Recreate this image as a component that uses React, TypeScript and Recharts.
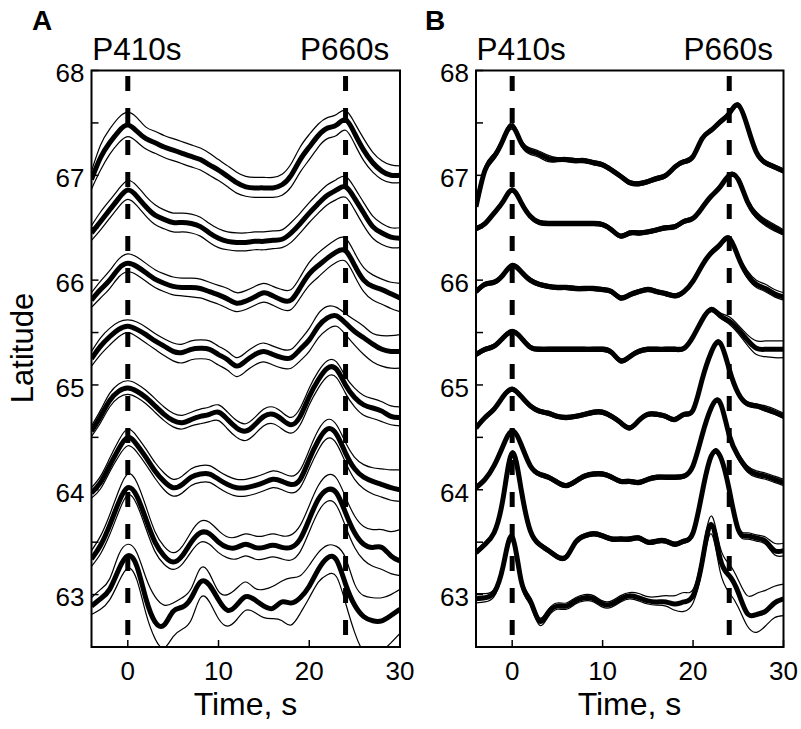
import React from 'react';
import { LineChart, Line, XAxis, YAxis, ReferenceLine, ReferenceArea } from 'recharts';

const FONT = '"Liberation Sans", Arial, Helvetica, sans-serif';

const time = [-4, -3, -2, -1, 0, 1, 2, 3, 4, 5, 6, 7, 8, 9, 10, 11, 12, 13, 14, 15, 16, 17, 18, 19, 20, 21, 22, 23, 24, 25, 26, 27, 28, 29, 30];
const xTicks = [0, 10, 20, 30];
const yTicks = [63, 63.5, 64, 64.5, 65, 65.5, 66, 66.5, 67, 67.5, 68];
const phaseTimes = [0, 24];
const phaseNames = ['P410s', 'P660s'];

// panel A: mean and the two bounds, top trace first
const a1Mean = [66.96, 67.17, 67.31, 67.42, 67.48, 67.42, 67.35, 67.31, 67.27, 67.24, 67.21, 67.18, 67.15, 67.10, 67.05, 66.99, 66.93, 66.89, 66.88, 66.88, 66.88, 66.91, 67.00, 67.15, 67.27, 67.38, 67.45, 67.48, 67.53, 67.40, 67.24, 67.12, 67.04, 67.00, 67.00];
const a1Upper = [67.04, 67.29, 67.44, 67.55, 67.60, 67.55, 67.46, 67.42, 67.38, 67.35, 67.32, 67.29, 67.26, 67.21, 67.15, 67.09, 67.03, 66.99, 66.98, 66.98, 66.98, 67.01, 67.11, 67.27, 67.39, 67.49, 67.55, 67.58, 67.62, 67.50, 67.35, 67.22, 67.14, 67.10, 67.09];
const a1Lower = [66.87, 67.05, 67.20, 67.31, 67.37, 67.32, 67.25, 67.21, 67.17, 67.14, 67.11, 67.08, 67.05, 67.00, 66.95, 66.89, 66.83, 66.80, 66.79, 66.79, 66.79, 66.81, 66.89, 67.03, 67.15, 67.27, 67.35, 67.38, 67.43, 67.30, 67.14, 67.03, 66.96, 66.93, 66.93];

const a2Mean = [66.45, 66.56, 66.67, 66.78, 66.86, 66.80, 66.70, 66.62, 66.58, 66.55, 66.55, 66.54, 66.51, 66.45, 66.40, 66.37, 66.36, 66.36, 66.37, 66.37, 66.38, 66.39, 66.45, 66.54, 66.64, 66.73, 66.81, 66.86, 66.89, 66.78, 66.64, 66.51, 66.45, 66.41, 66.40];
const a2Upper = [66.52, 66.65, 66.76, 66.87, 66.95, 66.90, 66.80, 66.72, 66.67, 66.64, 66.64, 66.63, 66.60, 66.54, 66.49, 66.46, 66.45, 66.45, 66.46, 66.46, 66.47, 66.48, 66.55, 66.64, 66.74, 66.83, 66.91, 66.96, 66.99, 66.88, 66.74, 66.61, 66.54, 66.50, 66.50];
const a2Lower = [66.38, 66.48, 66.59, 66.70, 66.77, 66.71, 66.61, 66.53, 66.49, 66.46, 66.46, 66.45, 66.42, 66.36, 66.31, 66.29, 66.28, 66.28, 66.29, 66.29, 66.30, 66.31, 66.36, 66.45, 66.55, 66.64, 66.72, 66.77, 66.79, 66.67, 66.52, 66.40, 66.34, 66.31, 66.31];

const a3Mean = [65.81, 65.91, 66.00, 66.11, 66.16, 66.13, 66.07, 66.01, 65.97, 65.94, 65.93, 65.93, 65.92, 65.89, 65.86, 65.82, 65.78, 65.80, 65.84, 65.88, 65.85, 65.81, 65.81, 65.93, 66.06, 66.14, 66.21, 66.27, 66.28, 66.14, 66.00, 65.94, 65.91, 65.87, 65.83];
const a3Upper = [65.88, 65.99, 66.09, 66.20, 66.25, 66.22, 66.16, 66.10, 66.06, 66.03, 66.02, 66.02, 66.01, 65.98, 65.95, 65.92, 65.88, 65.90, 65.94, 65.97, 65.94, 65.91, 65.91, 66.03, 66.17, 66.26, 66.33, 66.39, 66.40, 66.26, 66.12, 66.05, 66.01, 65.98, 65.97];
const a3Lower = [65.74, 65.83, 65.92, 66.03, 66.08, 66.05, 65.99, 65.93, 65.89, 65.86, 65.85, 65.84, 65.83, 65.80, 65.77, 65.73, 65.70, 65.72, 65.76, 65.79, 65.76, 65.72, 65.72, 65.83, 65.95, 66.03, 66.11, 66.17, 66.18, 66.04, 65.89, 65.81, 65.77, 65.73, 65.70];

const a4Mean = [65.25, 65.37, 65.46, 65.53, 65.56, 65.53, 65.48, 65.42, 65.37, 65.32, 65.31, 65.34, 65.35, 65.34, 65.29, 65.24, 65.18, 65.23, 65.29, 65.32, 65.29, 65.26, 65.26, 65.34, 65.43, 65.56, 65.64, 65.66, 65.59, 65.51, 65.45, 65.39, 65.34, 65.32, 65.32];
const a4Upper = [65.32, 65.45, 65.54, 65.60, 65.62, 65.60, 65.55, 65.49, 65.44, 65.40, 65.39, 65.42, 65.43, 65.42, 65.37, 65.32, 65.26, 65.31, 65.37, 65.40, 65.37, 65.34, 65.34, 65.43, 65.54, 65.68, 65.75, 65.74, 65.68, 65.62, 65.56, 65.49, 65.47, 65.47, 65.48];
const a4Lower = [65.18, 65.29, 65.38, 65.46, 65.50, 65.46, 65.40, 65.34, 65.28, 65.23, 65.21, 65.24, 65.25, 65.24, 65.19, 65.14, 65.08, 65.13, 65.19, 65.22, 65.19, 65.16, 65.16, 65.23, 65.32, 65.45, 65.53, 65.56, 65.48, 65.38, 65.29, 65.22, 65.18, 65.16, 65.16];

const a5Mean = [64.56, 64.70, 64.85, 64.94, 64.97, 64.94, 64.88, 64.80, 64.72, 64.66, 64.64, 64.67, 64.70, 64.72, 64.74, 64.67, 64.59, 64.56, 64.62, 64.70, 64.72, 64.67, 64.62, 64.70, 64.89, 65.05, 65.16, 65.15, 65.00, 64.88, 64.81, 64.78, 64.75, 64.70, 64.69];
const a5Upper = [64.61, 64.76, 64.92, 65.01, 65.04, 65.01, 64.95, 64.87, 64.79, 64.73, 64.71, 64.74, 64.77, 64.79, 64.81, 64.74, 64.66, 64.63, 64.69, 64.77, 64.79, 64.74, 64.69, 64.78, 64.97, 65.13, 65.23, 65.22, 65.08, 64.97, 64.90, 64.87, 64.84, 64.80, 64.79];
const a5Lower = [64.51, 64.64, 64.79, 64.88, 64.91, 64.88, 64.82, 64.74, 64.66, 64.60, 64.58, 64.61, 64.63, 64.65, 64.66, 64.58, 64.50, 64.47, 64.53, 64.61, 64.63, 64.58, 64.54, 64.62, 64.81, 64.97, 65.08, 65.07, 64.92, 64.79, 64.71, 64.68, 64.65, 64.62, 64.61];

const a6Mean = [63.97, 64.07, 64.23, 64.39, 64.50, 64.43, 64.31, 64.18, 64.08, 64.02, 64.05, 64.12, 64.15, 64.15, 64.10, 64.05, 64.02, 64.02, 64.04, 64.07, 64.10, 64.08, 64.05, 64.10, 64.29, 64.47, 64.58, 64.53, 64.35, 64.20, 64.12, 64.08, 64.05, 64.02, 64.00];
const a6Upper = [64.02, 64.13, 64.30, 64.47, 64.58, 64.51, 64.39, 64.26, 64.16, 64.10, 64.13, 64.20, 64.23, 64.23, 64.18, 64.13, 64.10, 64.10, 64.12, 64.15, 64.18, 64.16, 64.13, 64.19, 64.38, 64.57, 64.67, 64.62, 64.45, 64.31, 64.24, 64.21, 64.20, 64.19, 64.19];
const a6Lower = [63.92, 64.01, 64.17, 64.32, 64.42, 64.36, 64.24, 64.11, 64.00, 63.94, 63.97, 64.04, 64.07, 64.07, 64.02, 63.97, 63.94, 63.94, 63.96, 63.99, 64.02, 64.00, 63.97, 64.02, 64.20, 64.38, 64.49, 64.44, 64.26, 64.10, 64.01, 63.96, 63.93, 63.90, 63.89];

const a7Mean = [63.34, 63.47, 63.66, 63.88, 64.02, 63.94, 63.72, 63.50, 63.37, 63.31, 63.37, 63.50, 63.59, 63.58, 63.50, 63.45, 63.45, 63.48, 63.45, 63.45, 63.47, 63.45, 63.45, 63.53, 63.72, 63.91, 64.00, 63.97, 63.78, 63.59, 63.48, 63.45, 63.45, 63.37, 63.32];
const a7Upper = [63.42, 63.56, 63.76, 63.99, 64.15, 64.07, 63.84, 63.60, 63.46, 63.40, 63.46, 63.60, 63.70, 63.69, 63.61, 63.55, 63.55, 63.58, 63.56, 63.56, 63.58, 63.56, 63.57, 63.66, 63.85, 64.04, 64.14, 64.11, 63.93, 63.75, 63.65, 63.62, 63.62, 63.60, 63.62];
const a7Lower = [63.27, 63.39, 63.57, 63.79, 63.95, 63.86, 63.63, 63.41, 63.29, 63.24, 63.29, 63.41, 63.50, 63.48, 63.40, 63.35, 63.34, 63.37, 63.34, 63.34, 63.36, 63.34, 63.33, 63.41, 63.60, 63.79, 63.89, 63.85, 63.65, 63.45, 63.33, 63.27, 63.24, 63.20, 63.18];

const a8Mean = [62.89, 62.96, 63.05, 63.24, 63.37, 63.27, 62.96, 62.74, 62.71, 62.84, 62.88, 62.97, 63.12, 63.09, 62.95, 62.85, 62.90, 62.98, 62.95, 62.89, 62.87, 62.93, 62.92, 62.97, 63.08, 63.24, 63.35, 63.33, 63.10, 62.90, 62.79, 62.75, 62.75, 62.80, 62.86];
const a8Upper = [62.97, 63.05, 63.15, 63.38, 63.48, 63.40, 63.16, 62.98, 62.90, 62.92, 62.97, 63.06, 63.25, 63.20, 63.03, 63.00, 63.06, 63.12, 63.06, 63.05, 63.08, 63.13, 63.16, 63.18, 63.28, 63.40, 63.47, 63.46, 63.35, 63.10, 62.99, 62.97, 62.97, 63.00, 63.05];
const a8Lower = [62.81, 62.86, 62.95, 63.12, 63.25, 63.14, 62.82, 62.58, 62.49, 62.60, 62.67, 62.76, 62.97, 62.93, 62.77, 62.70, 62.76, 62.85, 62.83, 62.78, 62.77, 62.75, 62.71, 62.82, 62.97, 63.12, 63.19, 63.17, 62.92, 62.64, 62.45, 62.40, 62.46, 62.54, 62.63];

// panel B
const b1Mean = [66.70, 67.05, 67.18, 67.34, 67.47, 67.31, 67.23, 67.20, 67.16, 67.15, 67.15, 67.14, 67.14, 67.12, 67.10, 67.05, 66.99, 66.93, 66.92, 66.94, 66.97, 67.00, 67.08, 67.13, 67.18, 67.35, 67.43, 67.51, 67.59, 67.67, 67.47, 67.22, 67.12, 67.08, 67.04];
const b1Upper = [66.73, 67.09, 67.21, 67.37, 67.50, 67.34, 67.26, 67.23, 67.19, 67.17, 67.17, 67.16, 67.16, 67.14, 67.12, 67.07, 67.01, 66.95, 66.94, 66.96, 66.99, 67.02, 67.10, 67.15, 67.20, 67.37, 67.45, 67.53, 67.61, 67.69, 67.49, 67.24, 67.14, 67.10, 67.06];
const b1Lower = [66.67, 67.02, 67.15, 67.31, 67.44, 67.28, 67.20, 67.17, 67.13, 67.13, 67.13, 67.12, 67.12, 67.10, 67.08, 67.03, 66.97, 66.91, 66.90, 66.92, 66.95, 66.98, 67.06, 67.11, 67.16, 67.33, 67.41, 67.49, 67.57, 67.65, 67.45, 67.20, 67.10, 67.06, 67.02];

const b2Mean = [66.49, 66.54, 66.64, 66.75, 66.86, 66.74, 66.61, 66.55, 66.54, 66.54, 66.54, 66.54, 66.54, 66.54, 66.53, 66.48, 66.42, 66.45, 66.45, 66.46, 66.48, 66.50, 66.51, 66.56, 66.59, 66.69, 66.80, 66.89, 67.00, 66.96, 66.75, 66.62, 66.55, 66.50, 66.45];
const b2Upper = [66.51, 66.56, 66.66, 66.77, 66.88, 66.76, 66.63, 66.57, 66.56, 66.56, 66.56, 66.56, 66.56, 66.56, 66.55, 66.50, 66.44, 66.47, 66.47, 66.48, 66.50, 66.52, 66.53, 66.58, 66.61, 66.71, 66.82, 66.91, 67.02, 66.98, 66.78, 66.65, 66.58, 66.53, 66.48];
const b2Lower = [66.47, 66.52, 66.62, 66.73, 66.84, 66.72, 66.59, 66.53, 66.52, 66.52, 66.52, 66.52, 66.52, 66.52, 66.51, 66.46, 66.40, 66.43, 66.43, 66.44, 66.46, 66.48, 66.49, 66.54, 66.57, 66.67, 66.78, 66.87, 66.98, 66.94, 66.72, 66.59, 66.52, 66.47, 66.43];

const b3Mean = [65.89, 65.96, 65.98, 66.05, 66.14, 66.08, 66.00, 65.96, 65.94, 65.93, 65.93, 65.92, 65.92, 65.92, 65.91, 65.89, 65.83, 65.86, 65.89, 65.91, 65.89, 65.87, 65.85, 65.89, 65.99, 66.14, 66.26, 66.34, 66.40, 66.22, 66.05, 65.96, 65.92, 65.87, 65.84];
const b3Upper = [65.91, 65.98, 66.00, 66.07, 66.16, 66.10, 66.02, 65.98, 65.96, 65.95, 65.95, 65.94, 65.94, 65.94, 65.93, 65.91, 65.85, 65.88, 65.91, 65.93, 65.91, 65.89, 65.87, 65.91, 66.01, 66.16, 66.28, 66.36, 66.42, 66.25, 66.09, 66.00, 65.96, 65.91, 65.88];
const b3Lower = [65.87, 65.94, 65.96, 66.03, 66.12, 66.06, 65.98, 65.94, 65.92, 65.91, 65.91, 65.90, 65.90, 65.90, 65.89, 65.87, 65.81, 65.84, 65.87, 65.89, 65.87, 65.85, 65.83, 65.87, 65.97, 66.12, 66.24, 66.32, 66.38, 66.20, 66.02, 65.93, 65.89, 65.84, 65.81];

const b4Mean = [65.29, 65.34, 65.37, 65.45, 65.51, 65.45, 65.36, 65.34, 65.34, 65.34, 65.34, 65.34, 65.34, 65.34, 65.34, 65.31, 65.23, 65.27, 65.32, 65.34, 65.34, 65.34, 65.34, 65.35, 65.46, 65.62, 65.72, 65.66, 65.61, 65.53, 65.43, 65.35, 65.34, 65.34, 65.34];
const b4Upper = [65.31, 65.36, 65.39, 65.47, 65.53, 65.47, 65.38, 65.36, 65.36, 65.36, 65.36, 65.36, 65.36, 65.36, 65.36, 65.33, 65.25, 65.29, 65.34, 65.36, 65.36, 65.36, 65.36, 65.37, 65.48, 65.64, 65.74, 65.69, 65.65, 65.57, 65.48, 65.42, 65.42, 65.42, 65.42];
const b4Lower = [65.27, 65.32, 65.35, 65.43, 65.49, 65.43, 65.34, 65.32, 65.32, 65.32, 65.32, 65.32, 65.32, 65.32, 65.32, 65.29, 65.21, 65.25, 65.30, 65.32, 65.32, 65.32, 65.32, 65.33, 65.44, 65.60, 65.70, 65.64, 65.58, 65.49, 65.38, 65.29, 65.27, 65.26, 65.26];

const b5Mean = [64.59, 64.69, 64.77, 64.89, 64.96, 64.89, 64.80, 64.75, 64.73, 64.70, 64.69, 64.70, 64.72, 64.74, 64.74, 64.70, 64.64, 64.59, 64.66, 64.72, 64.72, 64.70, 64.67, 64.72, 64.76, 65.05, 65.31, 65.40, 65.15, 64.92, 64.82, 64.80, 64.77, 64.74, 64.70];
const b5Upper = [64.61, 64.71, 64.79, 64.91, 64.98, 64.91, 64.82, 64.77, 64.75, 64.72, 64.71, 64.72, 64.74, 64.76, 64.76, 64.72, 64.66, 64.61, 64.68, 64.74, 64.74, 64.72, 64.69, 64.74, 64.78, 65.07, 65.33, 65.42, 65.17, 64.94, 64.84, 64.82, 64.80, 64.77, 64.73];
const b5Lower = [64.57, 64.67, 64.75, 64.87, 64.94, 64.87, 64.78, 64.73, 64.71, 64.68, 64.67, 64.68, 64.70, 64.72, 64.72, 64.68, 64.62, 64.57, 64.64, 64.70, 64.70, 64.68, 64.65, 64.70, 64.74, 65.03, 65.29, 65.38, 65.13, 64.90, 64.80, 64.78, 64.75, 64.72, 64.68];

const b6Mean = [64.02, 64.10, 64.23, 64.42, 64.56, 64.43, 64.23, 64.15, 64.12, 64.07, 64.04, 64.08, 64.13, 64.15, 64.15, 64.12, 64.08, 64.08, 64.07, 64.10, 64.12, 64.12, 64.12, 64.13, 64.23, 64.52, 64.78, 64.83, 64.52, 64.32, 64.20, 64.15, 64.13, 64.10, 64.07];
const b6Upper = [64.04, 64.12, 64.25, 64.44, 64.58, 64.45, 64.25, 64.17, 64.14, 64.09, 64.06, 64.10, 64.15, 64.17, 64.17, 64.14, 64.10, 64.10, 64.09, 64.12, 64.14, 64.14, 64.14, 64.15, 64.25, 64.54, 64.80, 64.85, 64.55, 64.35, 64.23, 64.18, 64.16, 64.13, 64.10];
const b6Lower = [64.00, 64.08, 64.21, 64.40, 64.54, 64.41, 64.21, 64.13, 64.10, 64.05, 64.02, 64.06, 64.11, 64.13, 64.13, 64.10, 64.06, 64.06, 64.05, 64.08, 64.10, 64.10, 64.10, 64.11, 64.21, 64.50, 64.76, 64.81, 64.49, 64.29, 64.17, 64.12, 64.10, 64.07, 64.04];

const b7Mean = [63.40, 63.48, 63.59, 63.92, 64.35, 64.00, 63.61, 63.48, 63.42, 63.36, 63.36, 63.50, 63.56, 63.58, 63.56, 63.53, 63.53, 63.53, 63.54, 63.50, 63.51, 63.51, 63.48, 63.51, 63.59, 63.97, 64.32, 64.32, 64.00, 63.62, 63.56, 63.54, 63.51, 63.42, 63.42];
const b7Upper = [63.42, 63.50, 63.61, 63.94, 64.37, 64.02, 63.63, 63.50, 63.44, 63.38, 63.38, 63.52, 63.58, 63.60, 63.58, 63.55, 63.55, 63.55, 63.56, 63.52, 63.53, 63.53, 63.50, 63.53, 63.61, 63.99, 64.34, 64.35, 64.03, 63.65, 63.59, 63.57, 63.55, 63.49, 63.49];
const b7Lower = [63.38, 63.46, 63.57, 63.90, 64.33, 63.98, 63.59, 63.46, 63.40, 63.34, 63.34, 63.48, 63.54, 63.56, 63.54, 63.51, 63.51, 63.51, 63.52, 63.48, 63.49, 63.49, 63.46, 63.49, 63.57, 63.95, 64.30, 64.30, 63.97, 63.59, 63.53, 63.51, 63.48, 63.38, 63.37];

const b8Mean = [62.96, 62.97, 63.02, 63.27, 63.55, 63.13, 62.94, 62.75, 62.83, 62.89, 62.89, 62.94, 62.97, 62.96, 62.91, 62.91, 62.96, 62.99, 62.97, 62.94, 62.93, 62.93, 62.91, 62.93, 62.99, 63.31, 63.67, 63.34, 63.18, 63.02, 62.82, 62.81, 62.84, 62.92, 62.96];
const b8Upper = [63.01, 63.01, 63.05, 63.30, 63.58, 63.17, 62.97, 62.78, 62.86, 62.92, 62.92, 62.97, 63.00, 62.99, 62.94, 62.94, 62.99, 63.02, 63.01, 62.98, 62.98, 62.99, 62.99, 63.02, 63.05, 63.38, 63.75, 63.45, 63.29, 63.14, 62.99, 63.01, 63.04, 63.08, 63.10];
const b8Lower = [62.92, 62.93, 62.98, 63.23, 63.51, 63.09, 62.90, 62.71, 62.79, 62.86, 62.86, 62.91, 62.94, 62.93, 62.88, 62.88, 62.93, 62.96, 62.94, 62.91, 62.90, 62.89, 62.85, 62.84, 62.92, 63.24, 63.58, 63.22, 63.02, 62.88, 62.70, 62.64, 62.70, 62.78, 62.80];

type Trace = { mean: number[]; upper: number[]; lower: number[] };

const tracesA: Trace[] = [
  { mean: a1Mean, upper: a1Upper, lower: a1Lower },
  { mean: a2Mean, upper: a2Upper, lower: a2Lower },
  { mean: a3Mean, upper: a3Upper, lower: a3Lower },
  { mean: a4Mean, upper: a4Upper, lower: a4Lower },
  { mean: a5Mean, upper: a5Upper, lower: a5Lower },
  { mean: a6Mean, upper: a6Upper, lower: a6Lower },
  { mean: a7Mean, upper: a7Upper, lower: a7Lower },
  { mean: a8Mean, upper: a8Upper, lower: a8Lower },
];

const tracesB: Trace[] = [
  { mean: b1Mean, upper: b1Upper, lower: b1Lower },
  { mean: b2Mean, upper: b2Upper, lower: b2Lower },
  { mean: b3Mean, upper: b3Upper, lower: b3Lower },
  { mean: b4Mean, upper: b4Upper, lower: b4Lower },
  { mean: b5Mean, upper: b5Upper, lower: b5Lower },
  { mean: b6Mean, upper: b6Upper, lower: b6Lower },
  { mean: b7Mean, upper: b7Upper, lower: b7Lower },
  { mean: b8Mean, upper: b8Upper, lower: b8Lower },
];

const X_DOMAIN: [number, number] = [-4, 30];
const Y_DOMAIN: [number, number] = [62.5, 68];
const HEIGHT = 729;
const TICK_LINE = { stroke: '#000', strokeWidth: 1.5 };

function toRows(traces: Trace[]) {
  return time.map((t, i) => {
    const row: Record<string, number> = { t };
    traces.forEach((tr, k) => {
      row[`m${k}`] = tr.mean[i];
      row[`u${k}`] = tr.upper[i];
      row[`l${k}`] = tr.lower[i];
    });
    return row;
  });
}

type PanelProps = {
  traces: Trace[];
  width: number;
  margin: { top: number; right: number; bottom: number; left: number };
};

function Panel({ traces, width, margin }: PanelProps) {
  const rows = toRows(traces);
  return (
    <LineChart width={width} height={HEIGHT} data={rows} margin={margin}>
      <XAxis
        dataKey="t"
        type="number"
        domain={X_DOMAIN}
        ticks={xTicks}
        allowDataOverflow
        interval={0}
        height={50}
        tickSize={-7}
        tickMargin={21.5}
        axisLine={false}
        tickLine={TICK_LINE}
        tick={{ fill: '#000', fontSize: 26, fontFamily: FONT }}
      />
      <XAxis
        xAxisId="top"
        orientation="top"
        dataKey="t"
        type="number"
        domain={X_DOMAIN}
        ticks={xTicks}
        allowDataOverflow
        interval={0}
        height={1}
        tickSize={-7}
        tick={false}
        axisLine={false}
        tickLine={TICK_LINE}
      />
      <YAxis
        type="number"
        domain={Y_DOMAIN}
        ticks={yTicks}
        allowDataOverflow
        interval={0}
        width={60}
        tickSize={-7}
        tickMargin={14}
        axisLine={false}
        tickLine={TICK_LINE}
        tick={{ fill: '#000', fontSize: 26, fontFamily: FONT, dy: 2.5 }}
        tickFormatter={(v: number) => (Number.isInteger(v) ? String(v) : '')}
      />
      <YAxis
        yAxisId="right"
        orientation="right"
        type="number"
        domain={Y_DOMAIN}
        ticks={yTicks}
        allowDataOverflow
        interval={0}
        width={1}
        tickSize={-7}
        tick={false}
        axisLine={false}
        tickLine={TICK_LINE}
      />
      {traces.map((_, k) => (
        <Line
          key={`u${k}`}
          dataKey={`u${k}`}
          type="natural"
          stroke="#000"
          strokeWidth={1.2}
          dot={false}
          activeDot={false}
          isAnimationActive={false}
        />
      ))}
      {traces.map((_, k) => (
        <Line
          key={`l${k}`}
          dataKey={`l${k}`}
          type="natural"
          stroke="#000"
          strokeWidth={1.2}
          dot={false}
          activeDot={false}
          isAnimationActive={false}
        />
      ))}
      {traces.map((_, k) => (
        <Line
          key={`m${k}`}
          dataKey={`m${k}`}
          type="natural"
          stroke="#000"
          strokeWidth={5}
          dot={false}
          activeDot={false}
          isAnimationActive={false}
        />
      ))}
      {phaseTimes.map((t, i) => (
        <ReferenceLine
          key={t}
          segment={[
            { x: t, y: Y_DOMAIN[1] },
            { x: t, y: Y_DOMAIN[0] },
          ]}
          stroke="#000"
          strokeWidth={5}
          strokeDasharray="15 17"
          strokeDashoffset={26.5}
          label={{
            value: phaseNames[i],
            position: 'top',
            offset: 10.5,
            dx: i === 0 ? 9 : -1,
            fill: '#000',
            fontSize: 31.5,
            fontFamily: FONT,
          }}
        />
      ))}
      <ReferenceArea
        x1={X_DOMAIN[0]}
        x2={X_DOMAIN[1]}
        y1={Y_DOMAIN[0]}
        y2={Y_DOMAIN[1]}
        fill="none"
        fillOpacity={0}
        stroke="#000"
        strokeWidth={2}
      />
    </LineChart>
  );
}

export default function App() {
  return (
    <div style={{ position: 'absolute', left: 0, top: 0, width: 801, height: HEIGHT, background: '#fff' }}>
      <div style={{ position: 'absolute', left: 0, top: 0 }}>
        <Panel traces={tracesA} width={440} margin={{ top: 69.5, right: 39, bottom: 32, left: 31.5 }} />
      </div>
      <div style={{ position: 'absolute', left: 400, top: 0 }}>
        <Panel traces={tracesB} width={401} margin={{ top: 69.5, right: 16.5, bottom: 32, left: 16 }} />
      </div>
      <svg
        width={801}
        height={HEIGHT}
        style={{ position: 'absolute', left: 0, top: 0, pointerEvents: 'none' }}
        fontFamily={FONT}
      >
        <text x={32} y={29.5} fontSize={28} fontWeight="bold">A</text>
        <text x={425} y={30} fontSize={28} fontWeight="bold">B</text>
        <text x={245.5} y={714.5} fontSize={32} textAnchor="middle">Time, s</text>
        <text x={629.5} y={714.5} fontSize={32} textAnchor="middle">Time, s</text>
        <text x={33} y={348} fontSize={31} textAnchor="middle" transform="rotate(-90 33 348)">Latitude</text>
      </svg>
    </div>
  );
}
